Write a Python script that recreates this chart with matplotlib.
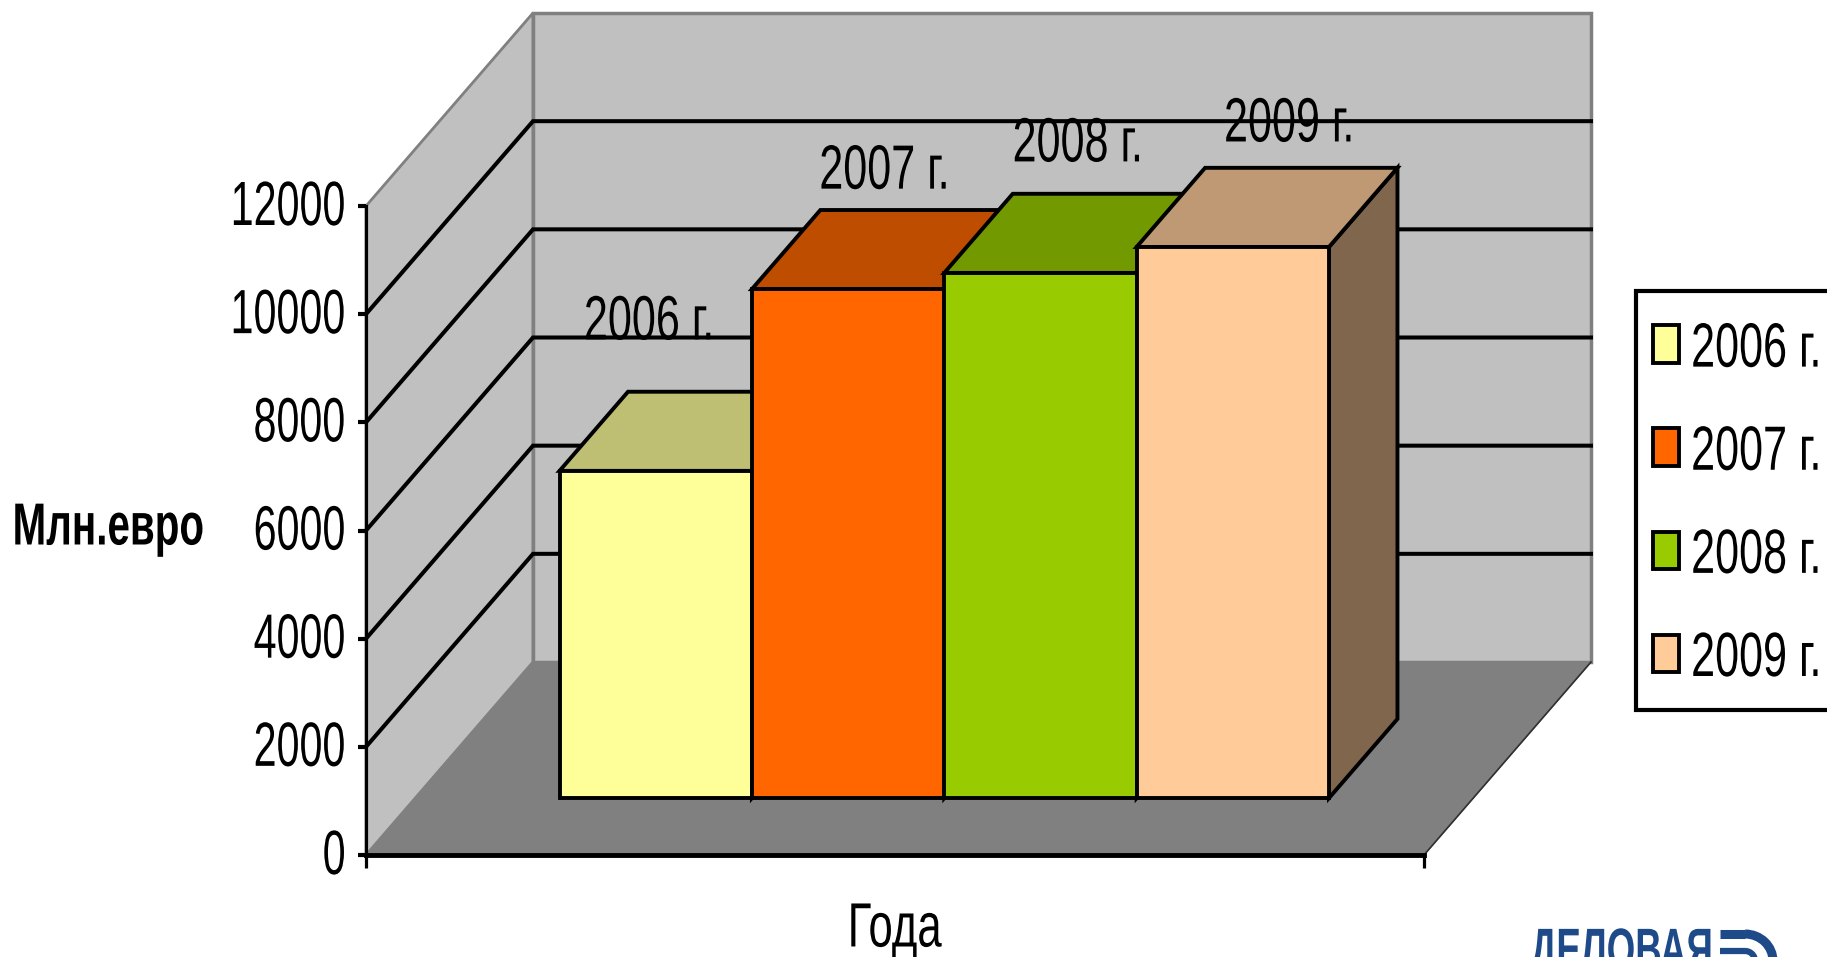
import numpy as np
import matplotlib
matplotlib.use('Agg')
import matplotlib.pyplot as plt
from matplotlib.patches import Polygon, Patch, Arc, Rectangle
from matplotlib.patheffects import AbstractPathEffect
from matplotlib.legend_handler import HandlerPatch
from matplotlib.transforms import Affine2D, Bbox

years = ['2006 г.', '2007 г.', '2008 г.', '2009 г.']
values = [6050, 9410, 9710, 10190]
colors = ['#FFFF99', '#FF6600', '#99CC00', '#FFCC99']
yticks = [0, 2000, 4000, 6000, 8000, 10000, 12000]

W, H = 1827, 957
plt.rcParams['font.family'] = ['Liberation Sans', 'DejaVu Sans']
FS = 45
SX = 0.66
SX_LAB = 0.69

# oblique projection of the 3d box: one unit of depth moves this much in data coords
left, right, base, top = 366, 1424, 855, 206
unit_x = (right - left) / 5.5
unit_v = (base - top) / 12000
dx = 167 / unit_x
dv = 193 / unit_v
depth0, depth1 = 0.295, 0.705
gap = 0.75


def shade(col, k):
    c = np.array(matplotlib.colors.to_rgb(col))
    return tuple(c * k)


def proj(x, v, d):
    return (x + d * dx, v + d * dv)


# no narrow font installed, so squeeze the glyphs sideways when they are drawn
class Squeeze(AbstractPathEffect):
    def __init__(self, sx, anchor):
        super().__init__()
        self.sx = sx
        self.anchor = anchor

    def draw_path(self, renderer, gc, tpath, affine, rgbFace=None):
        b = tpath.transformed(affine).get_extents()
        x0 = {'left': b.x0, 'center': (b.x0 + b.x1) / 2, 'right': b.x1}[self.anchor]
        t = affine + Affine2D().translate(-x0, 0).scale(self.sx, 1).translate(x0, 0)
        renderer.draw_path(gc, tpath, t, rgbFace)


def narrow(t, sx, anchor):
    t.set_path_effects([Squeeze(sx, anchor)])
    full = t.get_window_extent

    def extent(renderer=None, dpi=None):
        b = full(renderer, dpi)
        x0 = {'left': b.x0, 'center': (b.x0 + b.x1) / 2, 'right': b.x1}[anchor]
        return Bbox.from_extents(x0 + (b.x0 - x0) * sx, b.y0, x0 + (b.x1 - x0) * sx, b.y1)
    t.get_window_extent = extent


def legend_box(legend, orig_handle, xdescent, ydescent, width, height, fontsize):
    h = 0.6 * fontsize
    return Rectangle((-xdescent, 0.36 * fontsize - h / 2), width, h)


fig = plt.figure(figsize=(W / 100, H / 100), dpi=100)
ax = fig.add_axes([left / W, 1 - base / H, (right - left) / W, (base - top) / H])
ax.patch.set_visible(False)
ax.set_xlim(0, 5.5)
ax.set_ylim(0, 12000)

# walls and floor
wall_kw = dict(clip_on=False, zorder=1)
ax.add_patch(Polygon([proj(0, 0, 0), proj(0, 12000, 0), proj(0, 12000, 1), proj(0, 0, 1)],
                     facecolor='#C0C0C0', edgecolor='#808080', linewidth=2, **wall_kw))
ax.add_patch(Polygon([proj(0, 0, 1), proj(0, 12000, 1), proj(5.5, 12000, 1), proj(5.5, 0, 1)],
                     facecolor='#C0C0C0', edgecolor='#808080', linewidth=2.5, **wall_kw))
ax.add_patch(Polygon([proj(0, 0, 0), proj(5.5, 0, 0), proj(5.5, 0, 1), proj(0, 0, 1)],
                     facecolor='#808080', edgecolor='#808080', linewidth=1, **wall_kw))
x0, y0 = proj(5.5, 0, 0)
x1, y1 = proj(5.5, 0, 1)
ax.plot([x0, x1], [y0, y1], color='#303030', lw=1.2, clip_on=False, zorder=1.2)

# grid
for v in yticks[1:-1]:
    a = proj(0, v, 0)
    b = proj(0, v, 1)
    c = proj(5.5, v, 1)
    ax.plot([a[0], b[0], c[0]], [a[1], b[1], c[1]], color='black', lw=2.9, clip_on=False,
            solid_joinstyle='miter', zorder=1.5)

# bars, left to right so each one covers the side of the previous
for i, (val, col) in enumerate(zip(values, colors)):
    xl = gap + i
    xr = gap + i + 1
    edge = dict(edgecolor='black', linewidth=2.8, joinstyle='miter', clip_on=False, zorder=3 + i * 0.1)
    ax.add_patch(Polygon([proj(xr, 0, depth0), proj(xr, val, depth0), proj(xr, val, depth1), proj(xr, 0, depth1)],
                         facecolor=shade(col, 0.5), **edge))
    ax.add_patch(Polygon([proj(xl, val, depth0), proj(xr, val, depth0), proj(xr, val, depth1), proj(xl, val, depth1)],
                         facecolor=shade(col, 0.75), **edge))
    ax.add_patch(Polygon([proj(xl, 0, depth0), proj(xr, 0, depth0), proj(xr, val, depth0), proj(xl, val, depth0)],
                         facecolor=col, **edge))

# data labels, excel puts them a bit irregular
label_off = [(-6, 148), (37, 117), (38, 128), (57, 122)]
for i, (val, lab) in enumerate(zip(values, years)):
    bx, by = proj(gap + i + 0.5, val, depth0)
    t = ax.annotate(lab, (bx, by), xytext=(label_off[i][0] * 0.72, label_off[i][1] * 0.72),
                    textcoords='offset points', ha='center', va='center', fontsize=FS,
                    annotation_clip=False, zorder=5)
    narrow(t, SX_LAB, 'center')

# axes
ax.spines['top'].set_visible(False)
ax.spines['right'].set_visible(False)
ax.spines['left'].set_linewidth(2.3)
ax.spines['bottom'].set_linewidth(3.5)
ax.spines['left'].set_zorder(2)
ax.spines['bottom'].set_zorder(2)
ax.set_yticks(yticks)
ax.set_xticks([0, 5.5])
ax.set_xticklabels([])
ax.tick_params(axis='y', length=6, width=3, pad=8, labelsize=FS)
ax.tick_params(axis='x', length=9, width=2.3)
for t in ax.get_yticklabels():
    t.set_transform(t.get_transform() + Affine2D().translate(0, 4))
    narrow(t, SX, 'right')

t = fig.text(108 / W, 1 - 529 / H, 'Млн.евро', ha='center', va='center', fontsize=FS * 0.95, fontweight='bold')
narrow(t, 0.68, 'center')
t = fig.text(894 / W, 1 - 930 / H, 'Года', ha='center', va='center', fontsize=FS)
narrow(t, 0.7, 'center')

# legend runs off the right side of the picture
handles = [Patch(facecolor=c, edgecolor='black', linewidth=2.8, label=y) for c, y in zip(colors, years)]
leg = fig.legend(handles=handles, loc='upper left', bbox_to_anchor=(1636 / W, 1 - 291 / H), fontsize=FS,
                 fancybox=False, edgecolor='black', framealpha=1, borderpad=0.27, labelspacing=0.43,
                 handlelength=0.416, handleheight=1.5, handletextpad=0.18, borderaxespad=0,
                 handler_map={Patch: HandlerPatch(patch_func=legend_box)})
leg.get_frame().set_linewidth(3)
for t in leg.get_texts():
    narrow(t, SX_LAB, 'left')

# logo, cut by the bottom of the picture
over = fig.add_axes([0, 0, 1, 1])
over.set_xlim(0, W)
over.set_ylim(H, 0)
over.axis('off')
over.patch.set_visible(False)
t = over.text(1530, 969, 'ДЕЛОВАЯ', color='#1F4A8A', fontsize=42, fontweight='bold', va='baseline', ha='left')
narrow(t, 0.63, 'left')
over.add_patch(Arc((1745, 961), 56, 54, theta1=270, theta2=360, color='#1F4A8A', lw=6.5))
over.plot([1720, 1745], [934, 934], color='#1F4A8A', lw=6.5, solid_capstyle='butt')
over.add_patch(Arc((1745, 961), 20, 20, theta1=270, theta2=360, color='#1F4A8A', lw=4.5))
over.plot([1720, 1745], [951, 951], color='#1F4A8A', lw=4.5, solid_capstyle='butt')

plt.savefig('out.png', dpi=100)
plt.close()
